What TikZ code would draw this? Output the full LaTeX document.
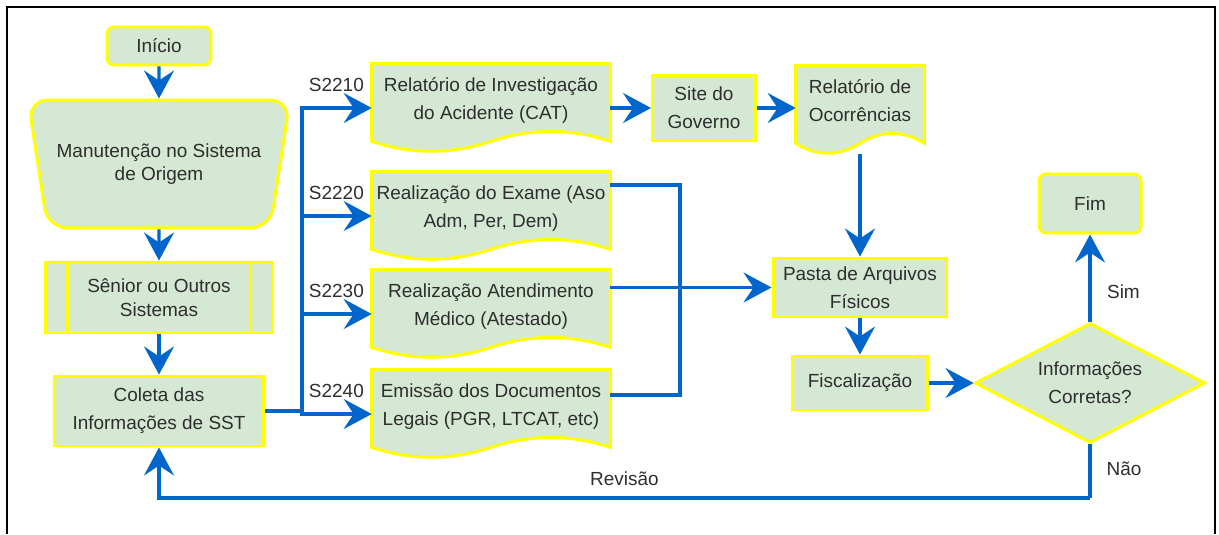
\documentclass[tikz,border=0pt]{standalone}
\usepackage{fontspec}
\setmainfont{Liberation Sans}
\usetikzlibrary{arrows.meta,shapes.geometric,calc,backgrounds}
\definecolor{boxfill}{HTML}{D5E8D4}
\definecolor{boxline}{HTML}{FFFF00}
\definecolor{flowblue}{HTML}{0066CC}
\definecolor{txt}{HTML}{2E2E2E}

\begin{document}
\begin{tikzpicture}[x=0.02cm,y=-0.02cm,
  txtfont/.style={text=txt,font=\fontsize{10.8pt}{16pt}\selectfont},
  base/.style={txtfont,fill=boxfill,draw=boxline,line width=1.7pt,align=center,inner sep=2pt},
  termbox/.style={base,rounded corners=0.14cm},
  procbox/.style={base},
  manualbox/.style={base,trapezium,shape border rotate=180,trapezium angle=68.7,trapezium stretches=true,rounded corners=0.4cm},
  docnode/.style={txtfont,align=center,inner sep=2pt,minimum height=1.76cm,text depth=11pt},
  docline/.style={fill=boxfill,draw=boxline,line width=1.7pt},
  decbox/.style={base,diamond,aspect=1.92,inner sep=0pt},
  link/.style={draw=flowblue,line width=1.8pt},
  flow/.style={link,-{Stealth[length=0.56cm,width=0.6cm,inset=0.2cm]}},
  lbl/.style={txtfont,inner sep=2pt}]
\useasboundingbox (0,0) rectangle (1219,534);
\draw[line width=1.1pt] (7,534) -- (7,7) -- (1215,7) -- (1215,534);

\node[termbox,minimum width=2.08cm,minimum height=0.76cm] (ini) at (159,46) {Início};
\node[manualbox,minimum width=5.24cm,minimum height=2.56cm,font=\fontsize{10.8pt}{13.3pt}\selectfont] (manut) at (159,164) {Manutenção no Sistema\\de Origem};
\node[procbox,minimum width=4.56cm,minimum height=1.42cm,font=\fontsize{10.8pt}{13.3pt}\selectfont] (sen) at (159,297.5) {Sênior ou Outros\\Sistemas};
\node[procbox,minimum width=4.2cm,minimum height=1.4cm] (col) at (159,411) {Coleta das\\Informações de SST};
\node[docnode,minimum width=4.76cm] (docA) at (491,108) {Relatório de Investigação\\do Acidente (CAT)};
\node[docnode,minimum width=4.76cm] (docB) at (491,216) {Realização do Exame (Aso\\Adm, Per, Dem)};
\node[docnode,minimum width=4.76cm] (docC) at (491,314) {Realização Atendimento\\Médico (Atestado)};
\node[docnode,minimum width=4.76cm] (docD) at (491,414) {Emissão dos Documentos\\Legais (PGR, LTCAT, etc)};
\node[procbox,minimum width=2.06cm,minimum height=1.3cm] (site) at (704,108) {Site do\\Governo};
\node[docnode,minimum width=2.56cm] (oco) at (860,110) {Relatório de\\Ocorrências};
\node[procbox,minimum width=3.48cm,minimum height=1.18cm] (pasta) at (860,287.5) {Pasta de Arquivos\\Físicos};
\node[procbox,minimum width=2.7cm,minimum height=1.08cm] (fisc) at (860,383) {Fiscalização};
\node[decbox,minimum width=4.6cm,minimum height=2.4cm] (dec) at (1090,383) {Informações\\Corretas?};
\node[termbox,minimum width=2.04cm,minimum height=1.18cm] (fim) at (1090,203.5) {Fim};

\begin{scope}[on background layer]
\foreach \n in {docA,docB,docC,docD,oco}
  \draw[docline] (\n.north west) -- (\n.north east) -- ([yshift=0.22cm]\n.south east)
    .. controls ($(\n.south east)!1/6!(\n.south west)+(0cm,0.484cm)$) and ($(\n.south east)!1/3!(\n.south west)+(0cm,0.484cm)$) .. ([yshift=0.22cm]\n.south)
    .. controls ($(\n.south west)!1/3!(\n.south east)+(0cm,-0.044cm)$) and ($(\n.south west)!1/6!(\n.south east)+(0cm,-0.044cm)$) .. ([yshift=0.22cm]\n.south west) -- cycle;
\end{scope}
\draw[procbox,fill=none] ([xshift=0.47cm]sen.north west) -- ([xshift=0.47cm]sen.south west);
\draw[procbox,fill=none] ([xshift=-0.47cm]sen.north east) -- ([xshift=-0.47cm]sen.south east);

\draw[flow] (ini) -- (manut);
\draw[flow] (manut) -- (sen);
\draw[flow] (sen) -- (col);
\coordinate (bus) at (302,411);
\draw[link] (col.east) -- (bus);
\draw[flow] (bus) |- (docA.west);
\draw[flow] (bus) |- (docB.west);
\draw[flow] (bus) |- (docC.west);
\draw[flow] (bus) |- (docD.west);
\node[lbl,anchor=east] (sA) at ([shift={(-0.08cm,0.47cm)}]docA.west) {S2210};
\node[lbl,anchor=east] (sB) at ([shift={(-0.08cm,0.47cm)}]docB.west) {S2220};
\node[lbl,anchor=east] (sC) at ([shift={(-0.08cm,0.47cm)}]docC.west) {S2230};
\node[lbl,anchor=east] (sD) at ([shift={(-0.08cm,0.47cm)}]docD.west) {S2240};
\draw[flow] (docA) -- (site);
\draw[flow] (site.east) -- (site.east -| oco.west);
\draw[flow] (oco) -- (pasta);
\coordinate (join) at (680,287.5);
\draw[link] ([yshift=0.62cm]docB.east) -| (join) |- ([yshift=0.38cm]docD.east);
\draw[flow] (docC.east |- pasta.west) -- (pasta.west);
\draw[flow] (pasta) -- (fisc);
\draw[flow] (fisc) -- (dec);
\draw[flow] (dec) -- node[lbl,anchor=west,pos=0.34,xshift=0.24cm] (sim) {Sim} (fim);
\coordinate (low) at (1090,498);
\draw[link] (dec.south) -- node[lbl,anchor=west,pos=0.45,xshift=0.23cm] (nao) {Não} (low);
\draw[flow] (low) -| node[lbl,pos=0.25,above=4pt] (rev) {Revisão} (col.south);
\end{tikzpicture}
\end{document}
